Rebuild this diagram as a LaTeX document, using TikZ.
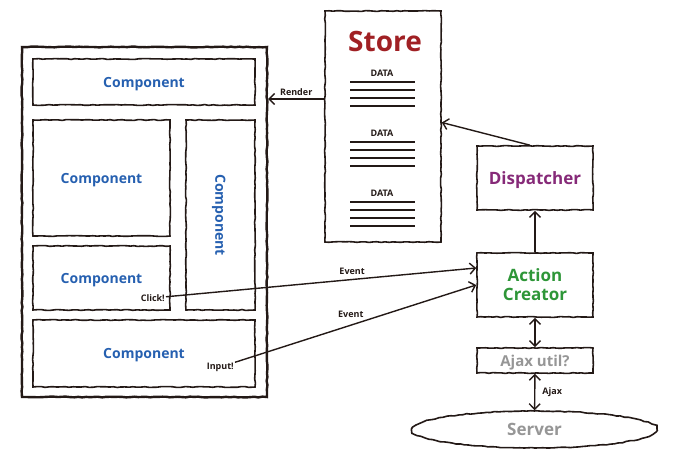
\documentclass[tikz,border=0pt]{standalone}
\usepackage{fontspec}
\setmainfont{Open Sans}
\usepackage{tikz}
\usetikzlibrary{positioning, arrows.meta, shapes.geometric, decorations.pathmorphing}

\definecolor{ink}{RGB}{35,25,22}
\definecolor{compblue}{RGB}{38,96,176}
\definecolor{storered}{RGB}{160,32,36}
\definecolor{disppurple}{RGB}{134,42,120}
\definecolor{actgreen}{RGB}{46,150,56}
\definecolor{softgray}{RGB}{150,150,150}

\tikzset{
  sketch/.style={draw=ink, decorate, decoration={random steps, segment length=4pt, amplitude=0.45pt}},
  box/.style={sketch, line width=1.6pt, inner sep=0pt, text depth=0pt, align=center, font=\fontsize{17}{19}\selectfont\bfseries},
  comp/.style={box, text=compblue, font=\fontsize{14}{16}\selectfont\bfseries},
  tag/.style={draw=none, text=ink, inner sep=1pt, font=\fontsize{9}{10}\selectfont\bfseries},
  link/.style={draw=ink, line width=1.4pt},
  dataline/.style={draw=ink, line width=1.5pt}
}

\begin{document}
\pgfmathsetseed{11}
\begin{tikzpicture}[x=1pt, y=-1pt, >={Straight Barb[length=5.5pt, width=11pt]}]
    \useasboundingbox (0,0) rectangle (680,460);

    % the page and its components
    \node[box, line width=2.4pt, minimum width=245pt, minimum height=350pt] (page) at (144.5,222) {};
    \node[comp, minimum width=222pt, minimum height=46pt] (header) at (144,82) {Component};
    \node[comp, minimum width=137pt, minimum height=116pt] (content) at (101.5,178) {Component};
    \node[comp, rotate=-90, minimum width=190pt, minimum height=69pt] (sidebar) at (220.5,215) {Component};
    \node[comp, minimum width=137pt, minimum height=64pt] (button) at (101.5,278) {Component};
    \node[comp, minimum width=222pt, minimum height=67pt] (form) at (144,353.5) {Component};
    \node[tag, anchor=east] (click) at (166,298) {Click!};
    \node[tag, anchor=east] (input) at (235,367) {Input!};

    % store
    \node[box, minimum width=116pt, minimum height=231pt] (store) at (383,126.5) {};
    \node[text=storered, font=\fontsize{28}{30}\selectfont\bfseries] (storetitle) at (385,41) {Store};
    \foreach \i/\y in {1/73, 2/133, 3/193} {
        \node[tag] (data\i) at (382,\y) {DATA};
        \foreach \d in {9,17,25,33}
            \draw[dataline] (350,\y+\d) -- (415,\y+\d);
    }

    % flux side
    \node[box, text=disppurple, minimum width=116pt, minimum height=64pt] (dispatcher) at (535,178) {Dispatcher};
    \node[box, text=actgreen, minimum width=116pt, minimum height=64pt] (action) at (535,285) {Action\\Creator};
    \node[box, text=softgray, font=\fontsize{15}{17}\selectfont\bfseries, minimum width=116pt, minimum height=25pt] (ajax) at (535,360.5) {Ajax util?};
    \node[box, ellipse, text=softgray, minimum width=245pt, minimum height=37pt] (server) at (534.5,429.5) {Server};

    \draw[link, ->] (store.west |- 0,99) -- (page.east |- 0,99) node[tag, midway, above=2pt] {Render};
    \draw[link, ->] ([xshift=-5pt]dispatcher.north) -- ([yshift=4pt]store.east);
    \draw[link, ->] (action) -- (dispatcher);
    \draw[link, <->] (action) -- (ajax);
    \draw[link, <->] (ajax) -- (server) node[tag, midway, right=6pt] {Ajax};
    \draw[link, ->] (click) -- ([yshift=17pt]action.west) node[tag, pos=0.6, above=3pt] {Event};
    \draw[link, ->] (input) -- (action.west) node[tag, pos=0.48, above=6pt] {Event};
\end{tikzpicture}
\end{document}
